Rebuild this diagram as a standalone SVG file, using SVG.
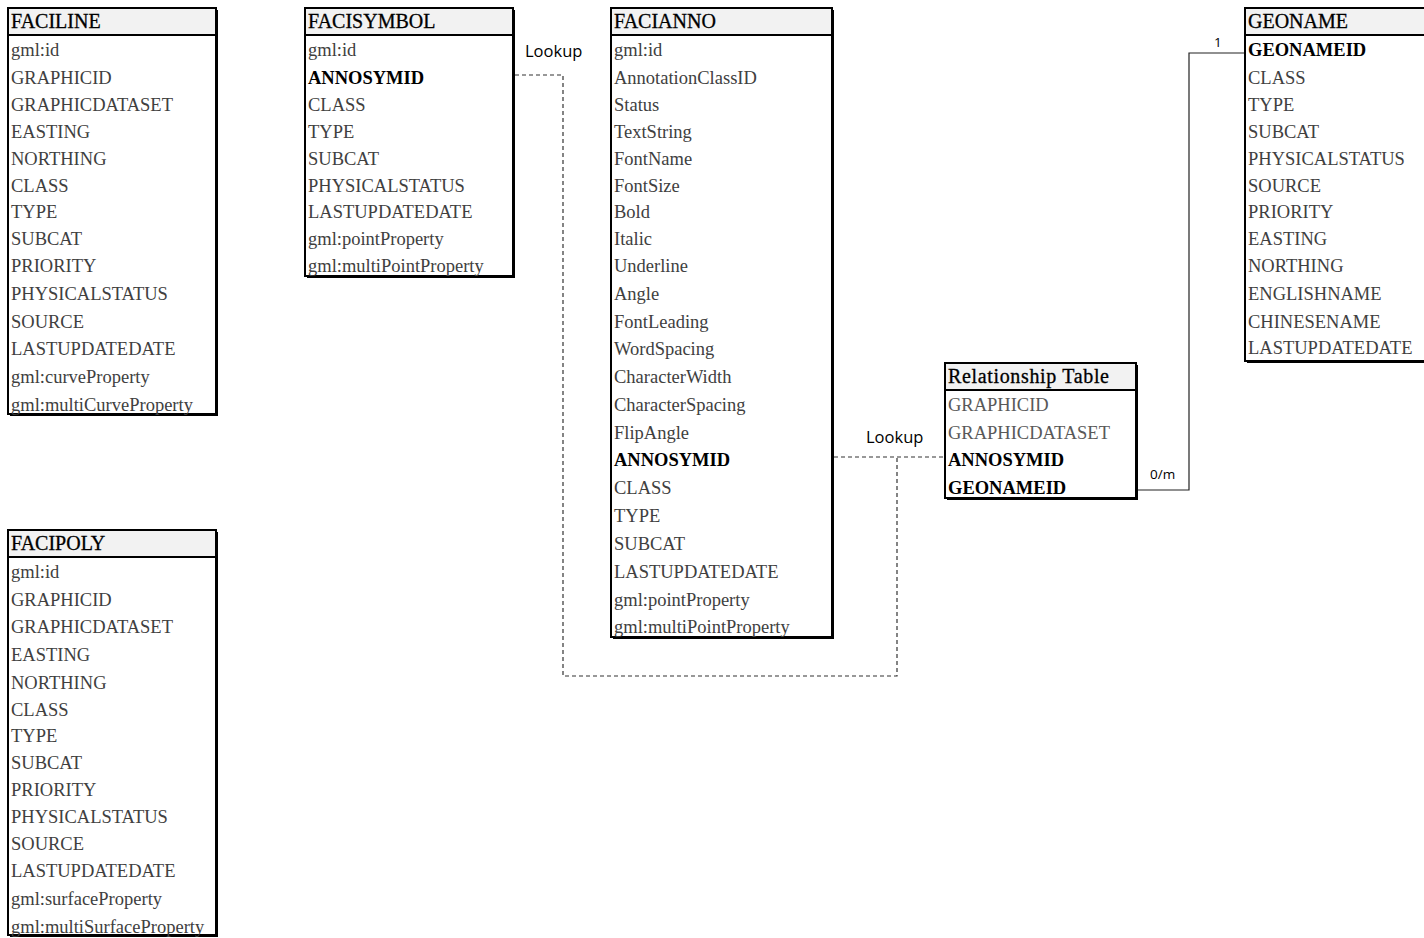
<svg xmlns="http://www.w3.org/2000/svg" width="1424" height="938" viewBox="0 0 1424 938">
<style>
.sh{fill:#000}
.box{fill:#fff;stroke:#000;stroke-width:2}
.hdr{fill:#f2f2f2;stroke:#000;stroke-width:2}
.t{font-family:"Liberation Serif",serif;font-size:18.5px;fill:#404040}
.g{fill:#595959}
.b{font-weight:bold;fill:#000}
.h{font-family:"Liberation Serif",serif;font-size:20px;fill:#000;stroke:#000;stroke-width:0.3}
.lbl{font-family:"Open Sans","Liberation Sans",sans-serif;font-size:16.5px;fill:#000}
.sm{font-family:"Open Sans","Liberation Sans",sans-serif;font-size:13.5px;fill:#000}
.dash{fill:none;stroke:#333;stroke-width:1.2;stroke-dasharray:4 3}
.solid{fill:none;stroke:#222;stroke-width:1.2}
</style>
<g id="connectors">
<path class="dash" d="M515,75 H563 V676 H897 V457"/>
<path class="dash" d="M834,457 H945"/>
<path class="solid" d="M1138,490 H1189 V53 H1245"/>
<text class="lbl" x="525" y="57">Lookup</text>
<text class="lbl" x="866" y="443">Lookup</text>
<text class="sm" x="1214" y="47">1</text>
<text class="sm" x="1150" y="479">0/m</text>
</g>
<g id="FACILINE">
<rect class="sh" x="10" y="10" width="208" height="406"/>
<rect class="box" x="8" y="8" width="208" height="406"/>
<rect class="hdr" x="8" y="8" width="208" height="27"/>
<text class="h" x="11" y="28">FACILINE</text>
<text class="t" x="11" y="56">gml:id</text>
<text class="t" x="11" y="84">GRAPHICID</text>
<text class="t" x="11" y="111">GRAPHICDATASET</text>
<text class="t" x="11" y="138">EASTING</text>
<text class="t" x="11" y="165">NORTHING</text>
<text class="t" x="11" y="192">CLASS</text>
<text class="t" x="11" y="218">TYPE</text>
<text class="t" x="11" y="245">SUBCAT</text>
<text class="t" x="11" y="272">PRIORITY</text>
<text class="t" x="11" y="300">PHYSICALSTATUS</text>
<text class="t" x="11" y="328">SOURCE</text>
<text class="t" x="11" y="355">LASTUPDATEDATE</text>
<text class="t" x="11" y="383">gml:curveProperty</text>
<text class="t" x="11" y="411">gml:multiCurveProperty</text>
</g>
<g id="FACISYMBOL">
<rect class="sh" x="307" y="10" width="208" height="268"/>
<rect class="box" x="305" y="8" width="208" height="268"/>
<rect class="hdr" x="305" y="8" width="208" height="27"/>
<text class="h" x="308" y="28">FACISYMBOL</text>
<text class="t" x="308" y="56">gml:id</text>
<text class="t b" x="308" y="84">ANNOSYMID</text>
<text class="t" x="308" y="111">CLASS</text>
<text class="t" x="308" y="138">TYPE</text>
<text class="t" x="308" y="165">SUBCAT</text>
<text class="t" x="308" y="192">PHYSICALSTATUS</text>
<text class="t" x="308" y="218">LASTUPDATEDATE</text>
<text class="t" x="308" y="245">gml:pointProperty</text>
<text class="t" x="308" y="272">gml:multiPointProperty</text>
</g>
<g id="FACIANNO">
<rect class="sh" x="613" y="10" width="221" height="629"/>
<rect class="box" x="611" y="8" width="221" height="629"/>
<rect class="hdr" x="611" y="8" width="221" height="27"/>
<text class="h" x="614" y="28">FACIANNO</text>
<text class="t" x="614" y="56">gml:id</text>
<text class="t" x="614" y="84">AnnotationClassID</text>
<text class="t" x="614" y="111">Status</text>
<text class="t" x="614" y="138">TextString</text>
<text class="t" x="614" y="165">FontName</text>
<text class="t" x="614" y="192">FontSize</text>
<text class="t" x="614" y="218">Bold</text>
<text class="t" x="614" y="245">Italic</text>
<text class="t" x="614" y="272">Underline</text>
<text class="t" x="614" y="300">Angle</text>
<text class="t" x="614" y="328">FontLeading</text>
<text class="t" x="614" y="355">WordSpacing</text>
<text class="t" x="614" y="383">CharacterWidth</text>
<text class="t" x="614" y="411">CharacterSpacing</text>
<text class="t" x="614" y="439">FlipAngle</text>
<text class="t b" x="614" y="466">ANNOSYMID</text>
<text class="t" x="614" y="494">CLASS</text>
<text class="t" x="614" y="522">TYPE</text>
<text class="t" x="614" y="550">SUBCAT</text>
<text class="t" x="614" y="578">LASTUPDATEDATE</text>
<text class="t" x="614" y="606">gml:pointProperty</text>
<text class="t" x="614" y="633">gml:multiPointProperty</text>
</g>
<g id="GEONAME">
<rect class="sh" x="1247" y="10" width="190" height="353"/>
<rect class="box" x="1245" y="8" width="190" height="353"/>
<rect class="hdr" x="1245" y="8" width="190" height="27"/>
<text class="h" x="1248" y="28">GEONAME</text>
<text class="t b" x="1248" y="56">GEONAMEID</text>
<text class="t" x="1248" y="84">CLASS</text>
<text class="t" x="1248" y="111">TYPE</text>
<text class="t" x="1248" y="138">SUBCAT</text>
<text class="t" x="1248" y="165">PHYSICALSTATUS</text>
<text class="t" x="1248" y="192">SOURCE</text>
<text class="t" x="1248" y="218">PRIORITY</text>
<text class="t" x="1248" y="245">EASTING</text>
<text class="t" x="1248" y="272">NORTHING</text>
<text class="t" x="1248" y="300">ENGLISHNAME</text>
<text class="t" x="1248" y="328">CHINESENAME</text>
<text class="t" x="1248" y="354">LASTUPDATEDATE</text>
</g>
<g id="RelationshipTable">
<rect class="sh" x="947" y="365" width="191" height="135"/>
<rect class="box" x="945" y="363" width="191" height="135"/>
<rect class="hdr" x="945" y="363" width="191" height="27"/>
<text class="h" x="948" y="383" textLength="161">Relationship Table</text>
<text class="t g" x="948" y="411">GRAPHICID</text>
<text class="t g" x="948" y="439">GRAPHICDATASET</text>
<text class="t b" x="948" y="466">ANNOSYMID</text>
<text class="t b" x="948" y="494">GEONAMEID</text>
</g>
<g id="FACIPOLY">
<rect class="sh" x="10" y="532" width="208" height="405"/>
<rect class="box" x="8" y="530" width="208" height="405"/>
<rect class="hdr" x="8" y="530" width="208" height="27"/>
<text class="h" x="11" y="550">FACIPOLY</text>
<text class="t" x="11" y="578">gml:id</text>
<text class="t" x="11" y="606">GRAPHICID</text>
<text class="t" x="11" y="633">GRAPHICDATASET</text>
<text class="t" x="11" y="661">EASTING</text>
<text class="t" x="11" y="689">NORTHING</text>
<text class="t" x="11" y="716">CLASS</text>
<text class="t" x="11" y="742">TYPE</text>
<text class="t" x="11" y="769">SUBCAT</text>
<text class="t" x="11" y="796">PRIORITY</text>
<text class="t" x="11" y="823">PHYSICALSTATUS</text>
<text class="t" x="11" y="850">SOURCE</text>
<text class="t" x="11" y="877">LASTUPDATEDATE</text>
<text class="t" x="11" y="905">gml:surfaceProperty</text>
<text class="t" x="11" y="933">gml:multiSurfaceProperty</text>
</g>
</svg>
